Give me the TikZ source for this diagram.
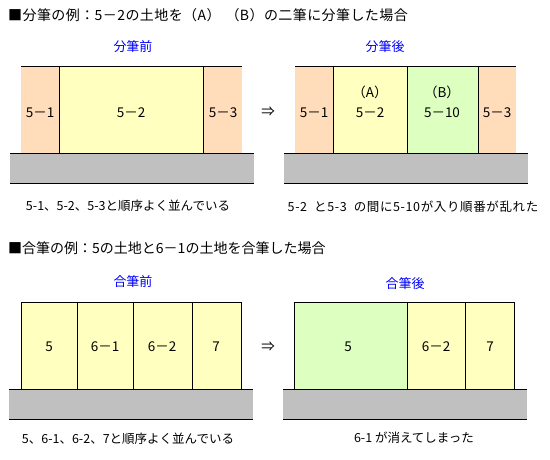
\documentclass[tikz,border=0pt]{standalone}
\usepackage{fontspec}
\setmainfont{Noto Sans CJK JP}
\definecolor{peach}{HTML}{FFDDBB}
\definecolor{pyellow}{HTML}{FFFFC0}
\definecolor{pgreen}{HTML}{DDFFC0}
\definecolor{road}{HTML}{C0C0C0}
\definecolor{tblue}{HTML}{0000FF}
\tikzset{
  lotlabel/.style={inner sep=0pt, font=\fontsize{13.5}{15}\selectfont},
  titletext/.style={inner sep=0pt, anchor=west, font=\fontsize{14}{16}\selectfont},
  headtext/.style={inner sep=0pt, text=tblue, font=\fontsize{13}{15}\selectfont},
  captext/.style={inner sep=0pt, font=\fontsize{12.5}{14}\selectfont},
  edge/.style={draw=black, line width=1pt},
}
\begin{document}
\begin{tikzpicture}[x=1pt,y=-1pt]
\useasboundingbox (0,0) rectangle (550,460);
% ================= Section 1 =================
\node[titletext] (t1) at (8,15) {\addfontfeature{LetterSpace=3}■分筆の例：5－2の土地を（A）\hspace{5pt}（B）の二筆に分筆した場合};
\node[headtext] (h1a) at (133,47) {分筆前};
\node[headtext] (h1b) at (385,47) {分筆後};
% left lots
\fill[peach] (21,67) rectangle (59,154);
\fill[pyellow] (59,67) rectangle (203,154);
\fill[peach] (203,67) rectangle (242,154);
\fill[road] (10,154) rectangle (254,184);
\draw[edge] (21,67) -- (242,67);
\draw[edge] (59,67) -- (59,154);
\draw[edge] (203,67) -- (203,154);
\draw[edge] (10,154) -- (254,154);
\draw[edge] (10,184) -- (254,184);
\node[lotlabel] (l51) at (40,113) {5－1};
\node[lotlabel] (l52) at (131,113) {5－2};
\node[lotlabel] (l53) at (223,113) {5－3};
\node[lotlabel] (ar1) at (268,112) {⇒};
% right lots
\fill[peach] (295,67) rectangle (333,154);
\fill[pyellow] (333,67) rectangle (407,154);
\fill[pgreen] (407,67) rectangle (478,154);
\fill[peach] (478,67) rectangle (516,154);
\fill[road] (284,154) rectangle (528,184);
\draw[edge] (295,67) -- (516,67);
\draw[edge] (333,67) -- (333,154);
\draw[edge] (407,67) -- (407,154);
\draw[edge] (478,67) -- (478,154);
\draw[edge] (284,154) -- (528,154);
\draw[edge] (284,184) -- (528,184);
\node[lotlabel] (r51) at (314,113) {5－1};
\node[lotlabel] (ra) at (370,92) {（A）};
\node[lotlabel] (r52) at (370,113) {5－2};
\node[lotlabel] (rb) at (442,92) {（B）};
\node[lotlabel] (r510) at (442,113) {5－10};
\node[lotlabel] (r53) at (497,113) {5－3};
\node[captext] (c1a) at (128,206) {5-1、5-2、5-3と順序よく並んでいる};
\node[captext] (c1b) at (413,207) {\addfontfeature{LetterSpace=5}5-2\hspace{7pt}と5-3\hspace{7pt}の間に5-10が入り順番が乱れた};
% ================= Section 2 =================
\node[titletext] (t2) at (8,248) {■合筆の例：5の土地と6－1の土地を合筆した場合};
\node[headtext] (h2a) at (133,282) {合筆前};
\node[headtext] (h2b) at (405,284) {合筆後};
% left lots
\fill[pyellow] (21,302) rectangle (241,389);
\fill[road] (9,389) rectangle (253,419);
\draw[edge] (21,302) rectangle (241,389);
\draw[edge] (77,302) -- (77,389);
\draw[edge] (133,302) -- (133,389);
\draw[edge] (192,302) -- (192,389);
\draw[edge] (9,389) -- (253,389);
\draw[edge] (9,419) -- (253,419);
\node[lotlabel] (m5) at (49,347) {5};
\node[lotlabel] (m61) at (105,347) {6－1};
\node[lotlabel] (m62) at (162,347) {6－2};
\node[lotlabel] (m7) at (216,347) {7};
\node[lotlabel] (ar2) at (268,347) {⇒};
% right lots
\fill[pgreen] (294,302) rectangle (407,389);
\fill[pyellow] (407,302) rectangle (514,389);
\fill[road] (283,389) rectangle (527,419);
\draw[edge] (294,302) rectangle (514,389);
\draw[edge] (407,302) -- (407,389);
\draw[edge] (465,302) -- (465,389);
\draw[edge] (283,389) -- (527,389);
\draw[edge] (283,419) -- (527,419);
\node[lotlabel] (n5) at (348,347) {5};
\node[lotlabel] (n62) at (436,347) {6－2};
\node[lotlabel] (n7) at (490,347) {7};
\node[captext] (c2a) at (128,439) {5、6-1、6-2、7と順序よく並んでいる};
\node[captext] (c2b) at (414,438) {6-1 が消えてしまった};
\end{tikzpicture}
\end{document}
